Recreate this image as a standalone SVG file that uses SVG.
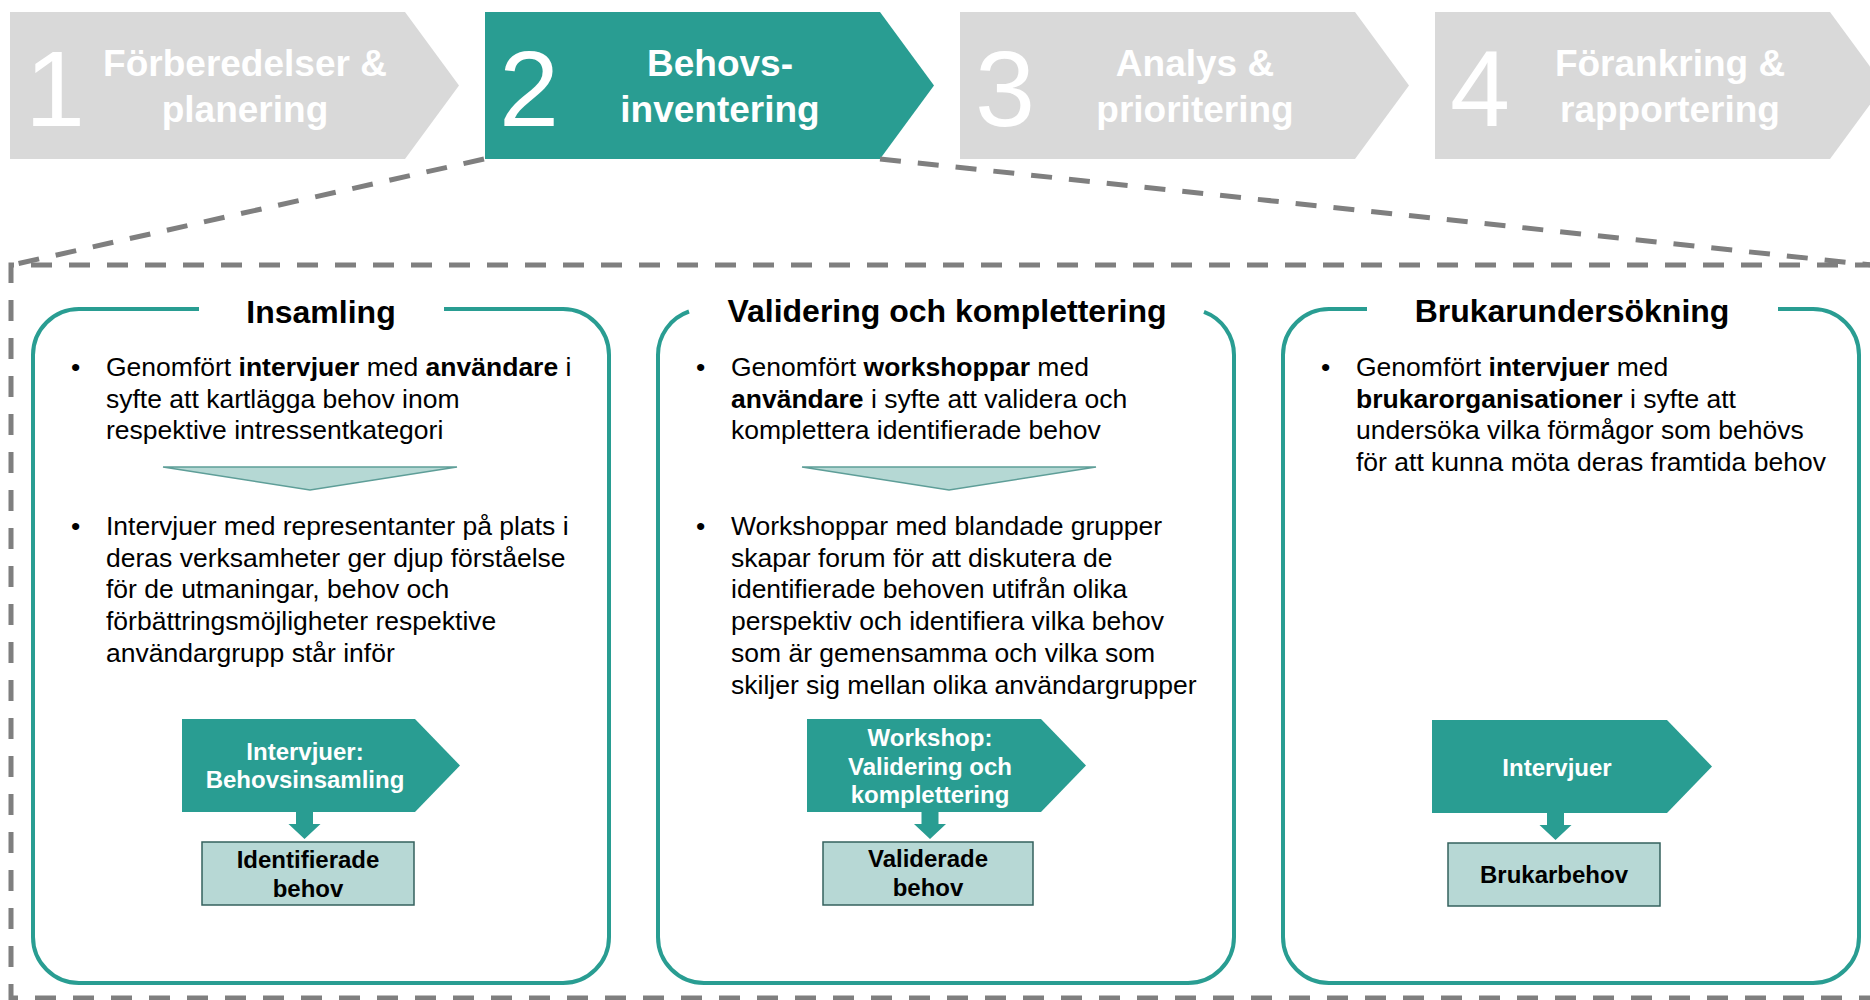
<svg xmlns="http://www.w3.org/2000/svg" width="1870" height="1000" viewBox="0 0 1870 1000">
<style>
text{font-family:"Liberation Sans",Arial,Helvetica,sans-serif}
.chg{fill:#D9D9D9}
.cht{fill:#299D92}
.num{font-size:108px;fill:#fff}
.lab{font-size:37px;font-weight:bold;fill:#fff;text-anchor:middle}
.dash{fill:none;stroke:#7F7F7F;stroke-width:5;stroke-dasharray:21 17}
.panel{fill:none;stroke:#299D92;stroke-width:4}
.ptitle{font-size:32px;font-weight:bold;fill:#000;text-anchor:middle}
.body{font-size:26.5px;fill:#000}
.b{font-weight:bold}
.taper{fill:#B5D8D4;stroke:#5E9E98;stroke-width:1.5}
.arr{fill:#299D92}
.box{fill:#B7D8D5;stroke:#35615D;stroke-width:1.5}
.st{font-size:24px;font-weight:bold;fill:#fff;text-anchor:middle}
.bt{font-size:24px;font-weight:bold;fill:#000;text-anchor:middle}
</style>

<g id="phase1">
<path class="chg" d="M10 12 H405 L459 85.5 L405 159 H10 Z"/>
<text class="num" x="25" y="126">1</text>
<text class="lab" x="245" y="76">Förberedelser &amp;</text>
<text class="lab" x="245" y="122">planering</text>
</g>
<g id="phase2">
<path class="cht" d="M485 12 H880 L934 85.5 L880 159 H485 Z"/>
<text class="num" x="499" y="126">2</text>
<text class="lab" x="720" y="76">Behovs-</text>
<text class="lab" x="720" y="122">inventering</text>
</g>
<g id="phase3">
<path class="chg" d="M960 12 H1355 L1409 85.5 L1355 159 H960 Z"/>
<text class="num" x="975" y="126">3</text>
<text class="lab" x="1195" y="76">Analys &amp;</text>
<text class="lab" x="1195" y="122">prioritering</text>
</g>
<g id="phase4">
<path class="chg" d="M1435 12 H1830 L1884 85.5 L1830 159 H1435 Z"/>
<text class="num" x="1450" y="126">4</text>
<text class="lab" x="1670" y="76">Förankring &amp;</text>
<text class="lab" x="1670" y="122">rapportering</text>
</g>

<g id="frame">
<path class="dash" d="M1876 265 H11 V998 H1876"/>
</g>

<g id="connectors">
<path class="dash" d="M484 159 L12 265"/>
<path class="dash" d="M880 159 L1872 265"/>
<path class="arr" d="M296 812 H313 V824 H320.5 L304.5 839 L288.5 824 H296 Z"/>
<path class="arr" d="M921.5 812 H938.5 V824 H946 L930 839 L914 824 H921.5 Z"/>
<path class="arr" d="M1547 813 H1564 V825 H1571.5 L1555.5 840 L1539.5 825 H1547 Z"/>
</g>

<g id="panel-insamling">
<path class="panel" d="M444 309 H563 A46 46 0 0 1 609 355 V937 A46 46 0 0 1 563 983 H79 A46 46 0 0 1 33 937 V355 A46 46 0 0 1 79 309 H199"/>
<text class="ptitle" x="321" y="323">Insamling</text>
<text class="body" x="71" y="376">•</text>
<text class="body" x="106" y="376">Genomfört <tspan class="b">intervjuer</tspan> med <tspan class="b">användare</tspan> i</text>
<text class="body" x="106" y="407.7">syfte att kartlägga behov inom</text>
<text class="body" x="106" y="439.4">respektive intressentkategori</text>
<polygon class="taper" points="163,467 457,467 310,490"/>
<text class="body" x="71" y="535">•</text>
<text class="body" x="106" y="535">Intervjuer med representanter på plats i</text>
<text class="body" x="106" y="566.7">deras verksamheter ger djup förståelse</text>
<text class="body" x="106" y="598.4">för de utmaningar, behov och</text>
<text class="body" x="106" y="630.1">förbättringsmöjligheter respektive</text>
<text class="body" x="106" y="661.8">användargrupp står inför</text>
</g>
<g id="step-intervjuer-behovsinsamling">
<path class="cht" d="M182 719 H415 L460 765.5 L415 812 H182 Z"/>
<text class="st" x="305" y="760">Intervjuer:</text>
<text class="st" x="305" y="788">Behovsinsamling</text>
</g>
<g id="result-identifierade">
<rect class="box" x="202" y="842" width="212" height="63"/>
<text class="bt" x="308" y="868">Identifierade</text>
<text class="bt" x="308" y="897">behov</text>
</g>

<g id="panel-validering">
<path class="panel" d="M1204 311.9 A46 46 0 0 1 1234 355 V937 A46 46 0 0 1 1188 983 H704 A46 46 0 0 1 658 937 V355 A46 46 0 0 1 689 311.5"/>
<text class="ptitle" x="947" y="322">Validering och komplettering</text>
<text class="body" x="696" y="376">•</text>
<text class="body" x="731" y="376">Genomfört <tspan class="b">workshoppar</tspan> med</text>
<text class="body" x="731" y="407.7"><tspan class="b">användare</tspan> i syfte att validera och</text>
<text class="body" x="731" y="439.4">komplettera identifierade behov</text>
<polygon class="taper" points="802,467 1096,467 949,490"/>
<text class="body" x="696" y="535">•</text>
<text class="body" x="731" y="535">Workshoppar med blandade grupper</text>
<text class="body" x="731" y="566.7">skapar forum för att diskutera de</text>
<text class="body" x="731" y="598.4">identifierade behoven utifrån olika</text>
<text class="body" x="731" y="630.1">perspektiv och identifiera vilka behov</text>
<text class="body" x="731" y="661.8">som är gemensamma och vilka som</text>
<text class="body" x="731" y="693.5">skiljer sig mellan olika användargrupper</text>
</g>
<g id="step-workshop">
<path class="cht" d="M807 719 H1041 L1086 765.5 L1041 812 H807 Z"/>
<text class="st" x="930" y="746">Workshop:</text>
<text class="st" x="930" y="775">Validering och</text>
<text class="st" x="930" y="803">komplettering</text>
</g>
<g id="result-validerade">
<rect class="box" x="823" y="842" width="210" height="63"/>
<text class="bt" x="928" y="867">Validerade</text>
<text class="bt" x="928" y="896">behov</text>
</g>

<g id="panel-brukarundersokning">
<path class="panel" d="M1778 309 H1813 A46 46 0 0 1 1859 355 V937 A46 46 0 0 1 1813 983 H1329 A46 46 0 0 1 1283 937 V355 A46 46 0 0 1 1329 309 H1367"/>
<text class="ptitle" x="1572" y="322">Brukarundersökning</text>
<text class="body" x="1321" y="376">•</text>
<text class="body" x="1356" y="376">Genomfört <tspan class="b">intervjuer</tspan> med</text>
<text class="body" x="1356" y="407.7"><tspan class="b">brukarorganisationer</tspan> i syfte att</text>
<text class="body" x="1356" y="439.4">undersöka vilka förmågor som behövs</text>
<text class="body" x="1356" y="471.1">för att kunna möta deras framtida behov</text>
</g>
<g id="step-intervjuer">
<path class="cht" d="M1432 720 H1667 L1712 766.5 L1667 813 H1432 Z"/>
<text class="st" x="1557" y="776">Intervjuer</text>
</g>
<g id="result-brukarbehov">
<rect class="box" x="1448" y="843" width="212" height="63"/>
<text class="bt" x="1554" y="883">Brukarbehov</text>
</g>
</svg>
